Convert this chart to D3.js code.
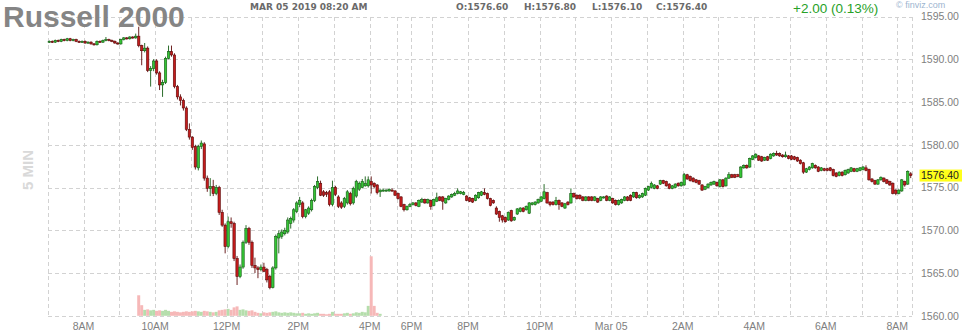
<!DOCTYPE html>
<html>
<head>
<meta charset="utf-8">
<script src="https://cdn.jsdelivr.net/npm/d3@7/dist/d3.min.js"></script>
<style>
body { margin: 0; background: #fff; }
svg { display: block; font-family: "Liberation Sans", Arial, sans-serif; }
</style>
</head>
<body>
<svg id="chart" width="967" height="336"></svg>
<script>
// 5 minute bars, Mar 04 07:00 -> Mar 05 08:20
var opens = [
1592.0,1592.1,1592.0,1592.2,1592.1,1592.3,1592.2,1592.4,1592.2,1592.3,
1592.1,1592.0,1592.1,1591.9,1592.0,1591.8,1591.7,1592.1,1592.0,1592.2,
1592.3,1592.2,1592.1,1591.9,1591.8,1592.3,1592.5,1592.4,1592.6,1592.5,
1592.7,1591.6,1591.0,1591.3,1588.7,1588.9,1589.8,1588.4,1587.0,1587.3,
1590.1,1590.9,1590.5,1586.8,1585.6,1585.2,1584.3,1581.8,1580.9,1579.8,
1577.3,1579.8,1580.1,1576.1,1574.9,1575.1,1574.3,1575.0,1572.1,1570.6,
1568.1,1571.0,1570.8,1566.7,1564.6,1565.7,1568.6,1570.2,1568.6,1565.9,
1565.6,1565.4,1565.7,1565.4,1564.6,1563.3,1565.6,1569.1,1569.3,1569.6,
1569.8,1570.8,1571.2,1572.2,1573.0,1573.2,1571.6,1572.0,1572.4,1573.5,
1575.0,1575.5,1574.5,1574.4,1574.5,1573.0,1575.0,1573.9,1573.2,1572.8,
1573.2,1574.3,1573.2,1574.0,1574.8,1575.0,1575.2,1575.2,1575.7,1575.5,
1575.3,1574.5,1574.6,1574.6,1574.6,1574.7,1574.6,1574.3,1573.9,1573.0,
1572.4,1572.8,1573.0,1573.2,1572.8,1573.3,1573.6,1573.2,1573.5,1572.9,
1573.4,1573.9,1573.9,1573.2,1573.6,1573.9,1574.1,1574.3,1574.3,1574.2,
1574.0,1573.8,1573.7,1573.5,1573.8,1574.1,1574.4,1574.3,1573.7,1573.5,
1572.6,1572.2,1571.7,1571.5,1571.2,1572.3,1571.2,1571.9,1572.2,1572.6,
1572.4,1572.0,1573.0,1573.0,1573.2,1573.4,1573.7,1574.4,1573.3,1573.3,
1573.0,1573.5,1573.2,1572.6,1573.3,1573.2,1574.3,1574.1,1574.1,1573.9,
1573.5,1573.9,1573.9,1573.5,1573.7,1573.5,1573.8,1574.0,1573.5,1573.7,
1573.5,1573.0,1573.2,1573.5,1573.9,1574.1,1573.9,1574.4,1573.8,1573.9,
1574.1,1574.7,1575.0,1574.9,1575.2,1575.4,1575.8,1575.7,1575.4,1574.9,
1575.0,1575.5,1575.2,1575.3,1576.5,1576.3,1576.1,1575.9,1575.8,1575.3,
1574.8,1575.0,1575.3,1575.4,1575.6,1575.1,1575.9,1575.2,1576.1,1576.5,
1576.5,1576.5,1576.2,1577.3,1577.6,1577.4,1578.3,1578.5,1578.7,1578.6,
1578.2,1578.6,1578.4,1578.7,1579.0,1579.0,1578.8,1578.6,1578.7,1578.7,
1578.6,1578.5,1578.2,1577.9,1576.8,1577.1,1577.3,1577.6,1577.4,1577.0,
1577.2,1577.2,1577.3,1577.1,1576.7,1576.4,1576.8,1576.5,1576.7,1576.9,
1577.2,1576.9,1577.0,1577.1,1577.3,1577.1,1576.0,1575.8,1575.4,1575.9,
1576.1,1575.9,1575.7,1575.5,1574.7,1574.3,1574.6,1575.7,1575.4,1576.6];

var highs = [
1592.2,1592.2,1592.3,1592.3,1592.4,1592.4,1592.5,1592.5,1592.4,1592.4,
1592.2,1592.2,1592.2,1592.1,1592.1,1591.9,1592.2,1592.2,1592.3,1592.6,
1592.4,1592.3,1592.2,1592.0,1592.4,1592.6,1592.6,1592.7,1592.7,1593.0,
1593.8,1591.7,1591.9,1591.5,1589.2,1590.0,1590.0,1588.6,1587.6,1590.3,
1591.6,1591.6,1590.7,1587.0,1585.9,1585.4,1584.5,1582.5,1581.0,1580.0,
1580.0,1580.5,1580.3,1576.4,1576.1,1575.9,1575.3,1575.2,1572.4,1570.8,
1571.6,1571.5,1571.0,1567.0,1566.0,1568.8,1570.6,1570.4,1568.8,1566.8,
1565.8,1566.0,1566.2,1565.6,1564.8,1565.8,1569.5,1570.0,1570.1,1570.3,
1571.5,1571.6,1572.6,1573.4,1573.9,1573.4,1572.5,1572.8,1573.7,1575.3,
1576.3,1575.8,1574.7,1574.6,1574.7,1575.8,1575.2,1574.1,1573.4,1573.9,
1574.7,1574.5,1575.1,1575.9,1575.7,1576.0,1576.3,1576.3,1576.3,1575.6,
1575.4,1574.8,1574.9,1574.8,1574.9,1574.9,1574.7,1574.4,1574.0,1573.1,
1572.9,1573.2,1573.3,1573.3,1573.6,1573.8,1573.7,1573.7,1573.6,1573.7,
1574.4,1574.0,1574.0,1573.8,1574.1,1574.3,1574.5,1574.9,1574.6,1574.6,
1574.1,1573.9,1573.8,1574.2,1574.5,1574.6,1574.9,1574.4,1573.8,1573.6,
1572.8,1572.3,1571.8,1571.6,1572.2,1572.4,1571.6,1572.6,1572.7,1572.7,
1572.9,1573.3,1573.3,1573.4,1573.7,1574.0,1575.4,1574.5,1573.4,1573.4,
1573.9,1573.6,1573.3,1573.2,1573.4,1574.9,1574.4,1574.2,1574.2,1574.0,
1574.0,1574.0,1574.0,1574.0,1573.8,1574.0,1574.0,1574.1,1574.0,1573.8,
1573.6,1573.6,1573.7,1574.0,1574.0,1574.2,1574.5,1574.5,1574.2,1574.4,
1575.0,1575.2,1575.7,1575.4,1575.3,1575.9,1575.9,1575.8,1575.5,1575.3,
1575.5,1575.6,1575.7,1576.7,1576.6,1576.4,1576.2,1576.0,1575.9,1575.4,
1575.2,1575.5,1575.7,1575.8,1575.7,1576.0,1576.0,1576.2,1576.8,1576.6,
1576.6,1576.6,1577.5,1577.7,1577.7,1578.5,1578.8,1579.0,1578.8,1578.7,
1578.6,1578.7,1579.0,1579.1,1579.3,1579.1,1578.9,1579.2,1578.8,1578.8,
1578.7,1578.6,1578.3,1578.0,1577.3,1577.5,1577.9,1577.7,1577.5,1577.4,
1577.3,1577.3,1577.4,1577.2,1576.8,1576.9,1576.9,1577.1,1577.2,1577.4,
1577.3,1577.3,1577.4,1577.5,1577.6,1577.2,1576.1,1575.9,1576.0,1576.3,
1576.2,1576.0,1575.8,1575.6,1574.8,1574.8,1576.0,1575.8,1577.0,1576.8];

var lows = [
1591.9,1591.9,1591.9,1592.0,1592.0,1592.1,1592.1,1592.1,1592.1,1592.0,
1591.9,1591.9,1591.8,1591.8,1591.7,1591.6,1591.6,1591.9,1591.9,1592.1,
1592.1,1592.0,1591.8,1591.7,1591.7,1592.2,1592.3,1592.3,1592.4,1592.4,
1591.4,1589.3,1590.8,1588.5,1586.8,1588.6,1588.2,1586.4,1585.6,1587.1,
1590.0,1590.3,1586.6,1585.3,1584.6,1584.0,1581.6,1580.6,1579.4,1577.1,
1577.0,1579.5,1575.8,1574.5,1574.0,1574.0,1574.1,1571.8,1570.4,1567.3,
1567.9,1570.3,1566.4,1563.6,1564.4,1565.5,1568.4,1568.3,1565.6,1565.0,
1564.4,1565.2,1565.1,1563.9,1563.1,1563.2,1565.4,1567.3,1569.0,1569.4,
1569.6,1570.2,1570.9,1572.0,1572.7,1571.4,1571.4,1571.8,1572.2,1573.3,
1574.8,1574.0,1573.9,1573.9,1572.8,1572.8,1574.0,1572.6,1572.5,1572.6,
1573.0,1572.9,1573.0,1573.8,1574.6,1574.9,1575.1,1575.0,1574.3,1574.9,
1574.2,1573.9,1574.5,1574.5,1574.5,1574.5,1574.0,1573.6,1572.7,1572.2,
1572.3,1572.7,1572.9,1572.8,1572.7,1573.2,1573.1,1573.1,1572.4,1572.8,
1573.3,1573.4,1572.4,1573.1,1573.5,1573.8,1574.0,1574.2,1574.2,1574.1,
1573.4,1573.3,1573.2,1573.4,1573.7,1574.0,1574.1,1573.6,1572.8,1573.1,
1571.8,1571.0,1570.9,1570.9,1571.1,1571.0,1571.1,1571.8,1572.1,1572.1,
1572.3,1571.9,1572.9,1572.9,1573.1,1573.3,1573.6,1573.1,1572.8,1572.9,
1572.9,1572.4,1572.7,1572.5,1572.9,1573.1,1573.8,1573.6,1573.6,1573.4,
1573.4,1573.4,1573.4,1573.4,1573.2,1573.4,1573.7,1573.4,1573.4,1573.1,
1572.9,1572.9,1573.1,1573.4,1573.4,1573.4,1573.8,1573.7,1573.7,1573.8,
1574.0,1574.6,1574.9,1574.8,1574.8,1575.3,1575.4,1575.1,1574.8,1574.8,
1574.9,1575.1,1575.1,1575.2,1575.9,1575.7,1575.6,1575.5,1575.3,1574.6,
1574.7,1574.9,1575.2,1575.3,1575.1,1575.0,1575.0,1575.1,1576.0,1576.1,
1576.1,1576.2,1576.1,1577.2,1577.2,1577.3,1578.2,1578.4,1578.1,1578.0,
1578.1,1578.1,1578.3,1578.6,1578.7,1578.6,1578.5,1578.5,1578.3,1578.2,
1578.2,1578.0,1577.7,1576.6,1576.7,1577.0,1577.2,1577.2,1576.8,1576.9,
1576.9,1576.9,1576.9,1576.3,1576.2,1576.3,1576.3,1576.4,1576.6,1576.8,
1576.8,1576.8,1576.9,1577.0,1576.9,1575.8,1575.6,1575.3,1575.3,1575.8,
1575.6,1575.4,1575.2,1574.2,1574.1,1574.2,1574.5,1575.1,1575.3,1576.1];

var closes = [
1592.1,1592.0,1592.2,1592.1,1592.3,1592.2,1592.4,1592.2,1592.3,1592.1,
1592.0,1592.1,1591.9,1592.0,1591.8,1591.7,1592.1,1592.0,1592.2,1592.3,
1592.2,1592.1,1591.9,1591.8,1592.3,1592.5,1592.4,1592.6,1592.5,1592.7,
1591.6,1591.0,1591.3,1588.7,1588.9,1589.8,1588.4,1587.0,1587.3,1590.1,
1590.9,1590.5,1586.8,1585.6,1585.2,1584.3,1581.8,1580.9,1579.7,1577.4,
1579.8,1580.2,1576.1,1574.9,1575.1,1574.3,1575.0,1572.1,1570.6,1568.1,
1571.0,1570.8,1566.7,1564.6,1565.7,1568.6,1570.2,1568.6,1565.9,1565.6,
1565.4,1565.7,1565.2,1564.2,1563.3,1565.6,1569.3,1569.6,1569.8,1570.0,
1571.2,1571.4,1572.4,1573.2,1573.5,1571.6,1572.4,1572.6,1573.5,1575.1,
1575.7,1574.1,1574.1,1574.2,1573.0,1575.0,1574.2,1572.8,1572.7,1573.7,
1574.5,1573.1,1574.9,1575.7,1575.5,1575.7,1575.5,1575.9,1575.3,1575.1,
1574.4,1574.7,1574.7,1574.7,1574.8,1574.6,1574.1,1573.7,1572.8,1572.4,
1572.8,1573.0,1573.2,1572.9,1573.5,1573.6,1573.2,1573.6,1572.8,1573.6,
1573.8,1573.5,1573.4,1573.7,1574.0,1574.2,1574.3,1574.6,1574.5,1574.4,
1573.5,1573.4,1573.3,1574.1,1574.4,1574.5,1574.2,1573.7,1572.9,1573.2,
1571.9,1571.5,1571.2,1571.0,1572.1,1571.1,1571.5,1572.5,1572.6,1572.2,
1572.8,1573.2,1573.2,1573.3,1573.6,1573.9,1574.5,1573.2,1573.0,1573.0,
1573.5,1573.0,1572.8,1573.1,1573.0,1574.3,1573.9,1573.7,1573.7,1573.5,
1573.9,1573.5,1573.5,1573.9,1573.3,1573.9,1573.9,1573.5,1573.9,1573.2,
1573.0,1573.5,1573.6,1573.9,1573.5,1573.5,1574.4,1573.8,1574.1,1574.3,
1574.9,1575.1,1575.5,1575.3,1574.9,1575.8,1575.5,1575.2,1574.9,1575.2,
1575.4,1575.2,1575.6,1576.5,1576.0,1575.8,1575.7,1575.6,1575.4,1574.7,
1575.1,1575.4,1575.6,1575.7,1575.2,1575.9,1575.1,1576.1,1576.5,1576.2,
1576.2,1576.3,1577.4,1577.6,1577.3,1578.4,1578.7,1578.9,1578.2,1578.1,
1578.5,1578.2,1578.9,1579.0,1578.8,1578.7,1578.6,1578.8,1578.4,1578.3,
1578.3,1578.1,1577.8,1576.8,1577.2,1577.4,1577.8,1577.3,1576.9,1577.3,
1577.0,1577.0,1577.0,1576.4,1576.3,1576.8,1576.4,1577.0,1577.1,1577.3,
1576.9,1577.2,1577.3,1577.4,1577.0,1575.9,1575.7,1575.4,1575.9,1576.2,
1575.7,1575.5,1575.3,1574.3,1574.3,1574.7,1575.9,1575.3,1576.9,1576.4];

// volume is only shown for the cash session bars
var volumeStart = 30;
var volumes = [
2070,1070,600,650,550,600,500,550,500,600,
500,400,450,400,350,400,450,400,450,500,
450,400,500,450,400,350,400,550,600,650,
700,600,850,950,600,650,550,500,550,400,
300,250,350,300,350,400,450,350,300,350,
300,350,300,250,250,300,200,250,200,250,
300,200,200,150,200,400,200,200,200,250,
300,200,250,350,300,400,350,1000,6000,1000,
300,200];

var priceTicks = [1560, 1565, 1570, 1575, 1580, 1585, 1590, 1595];
var timeTicks = [12, 24, 36, 48, 60, 72, 84, 96, 108, 117, 122, 129, 141, 153, 165, 177, 189, 201, 213, 225, 237, 249, 261, 273, 285];
var timeLabels = ["8AM", "", "10AM", "", "12PM", "", "2PM", "", "4PM", "", "6PM", "", "8PM", "", "10PM", "", "Mar 05", "", "2AM", "", "4AM", "", "6AM", "", "8AM"];

var ticker = "Russell 2000";
var stamp = "MAR 05 2019 08:20 AM";
var change = "+2.00 (0.13%)";
var lastPrice = 1576.40;

var svg = d3.select("#chart");
var n = closes.length;

var x = d3.scaleLinear().domain([0, n]).range([47.8, 912.2]);
var y = d3.scaleLinear().domain([1560, 1595]).range([315.8, 16.5]);
var vh = d3.scaleLinear().domain([0, d3.max(volumes)]).range([0, 59.5]);
var fmt = d3.format(".2f");
var step = x(1) - x(0);
var crisp = function(v) { return Math.round(v) + 0.5; };

var grid = svg.append("g")
    .attr("stroke", "#d2d2d2")
    .attr("stroke-dasharray", "4,3")
    .attr("shape-rendering", "crispEdges");

grid.selectAll("line.h")
    .data(priceTicks)
    .enter().append("line")
    .attr("class", "h")
    .attr("x1", x(0)).attr("x2", x(n))
    .attr("y1", function(d) { return crisp(y(d)); })
    .attr("y2", function(d) { return crisp(y(d)); });

grid.selectAll("line.v")
    .data([0].concat(timeTicks, [n]))
    .enter().append("line")
    .attr("class", "v")
    .attr("x1", function(d) { return crisp(x(d)); })
    .attr("x2", function(d) { return crisp(x(d)); })
    .attr("y1", y(1595)).attr("y2", y(1560));

// volume
svg.append("g")
    .selectAll("rect")
    .data(volumes)
    .enter().append("rect")
    .attr("x", function(d, i) { return x(i + volumeStart); })
    .attr("width", step)
    .attr("y", function(d) { return y(1560) - vh(d); })
    .attr("height", function(d) { return vh(d); })
    .attr("fill", function(d, i) {
        var k = i + volumeStart;
        return closes[k] >= opens[k] ? "#b5deac" : "#f6b8b8";
    });

// candles
var candle = svg.append("g")
    .selectAll("g")
    .data(closes)
    .enter().append("g");

candle.append("line")
    .attr("x1", function(d, i) { return x(i + 0.5); })
    .attr("x2", function(d, i) { return x(i + 0.5); })
    .attr("y1", function(d, i) { return y(highs[i]); })
    .attr("y2", function(d, i) { return y(lows[i]); })
    .attr("stroke", function(d, i) { return d >= opens[i] ? "#145c14" : "#5c0a0a"; })
    .attr("stroke-width", 0.9);

candle.append("rect")
    .attr("x", function(d, i) { return x(i + 0.5) - 1.2; })
    .attr("width", 2.4)
    .attr("y", function(d, i) { return y(Math.max(d, opens[i])); })
    .attr("height", function(d, i) { return Math.max(1, Math.abs(y(d) - y(opens[i]))); })
    .attr("fill", function(d, i) { return d >= opens[i] ? "#35c435" : "#c41c1c"; })
    .attr("stroke", function(d, i) { return d >= opens[i] ? "#145c14" : "#5c0a0a"; })
    .attr("stroke-width", 0.6);

// right price axis
svg.append("g")
    .selectAll("text")
    .data(priceTicks)
    .enter().append("text")
    .attr("x", 921)
    .attr("y", function(d) { return y(d); })
    .attr("dy", "0.36em")
    .attr("font-size", "10.5px")
    .attr("fill", "#808080")
    .text(function(d) { return fmt(d); });

svg.append("rect")
    .attr("x", 919.5)
    .attr("y", y(lastPrice) - 6)
    .attr("width", 42.5)
    .attr("height", 12)
    .attr("fill", "#ffff1a");

svg.append("text")
    .attr("x", 921)
    .attr("y", y(lastPrice))
    .attr("dy", "0.36em")
    .attr("font-size", "10.5px")
    .attr("fill", "#222")
    .text(fmt(lastPrice));

// time axis
svg.append("g")
    .selectAll("text")
    .data(timeTicks)
    .enter().append("text")
    .attr("x", function(d) { return x(d); })
    .attr("y", 329.5)
    .attr("text-anchor", "middle")
    .attr("font-size", "10.5px")
    .attr("fill", "#808080")
    .text(function(d, i) { return timeLabels[i]; });

// header
svg.append("text")
    .attr("x", 3)
    .attr("y", 27)
    .attr("font-size", "30px")
    .attr("font-weight", "bold")
    .attr("fill", "#858585")
    .text(ticker);

svg.append("text")
    .attr("transform", "translate(33,170) rotate(-90)")
    .attr("text-anchor", "middle")
    .attr("font-size", "15px")
    .attr("font-weight", "bold")
    .attr("fill", "#d9d9d9")
    .text("5 MIN");

var info = [
    {t: stamp, x: 250},
    {t: "O:" + fmt(opens[n - 1]), x: 456},
    {t: "H:" + fmt(highs[n - 1]), x: 524},
    {t: "L:" + fmt(lows[n - 1]), x: 592},
    {t: "C:" + fmt(closes[n - 1]), x: 656}
];

svg.append("g")
    .selectAll("text")
    .data(info)
    .enter().append("text")
    .attr("x", function(d) { return d.x; })
    .attr("y", 9.5)
    .attr("font-family", "DejaVu Sans")
    .attr("font-weight", "bold")
    .attr("font-size", "9px")
    .attr("fill", "#6a6a6a")
    .text(function(d) { return d.t; });

svg.append("text")
    .attr("x", 793)
    .attr("y", 12.5)
    .attr("font-size", "13.5px")
    .attr("fill", "#27a127")
    .text(change);

svg.append("text")
    .attr("x", 896)
    .attr("y", 8)
    .attr("font-size", "9px")
    .attr("fill", "#9cb4cf")
    .text("\u00a9 finviz.com");
</script>
</body>
</html>
